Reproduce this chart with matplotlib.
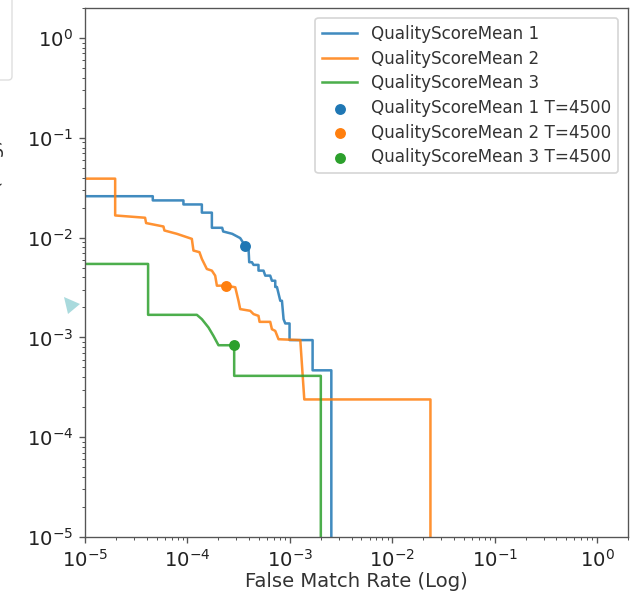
#!/usr/bin/env python3
# -*- coding: utf-8 -*-

"""
DET curves (log-log) for three quality score groups
"""

import matplotlib
matplotlib.use("Agg")
import matplotlib.pyplot as plt
from matplotlib.patches import FancyBboxPatch, Polygon

# curve 1: QualityScoreMean 1
fmr_1 = [1e-5, 4.59e-5, 4.59e-5, 9.14e-5, 9.14e-5, 1.383e-4, 1.383e-4, 1.732e-4,
         1.732e-4, 2.184e-4, 2.234e-4, 2.735e-4, 3.275e-4, 3.66e-4, 3.95e-4,
         4.01e-4, 4.26e-4, 4.42e-4, 4.94e-4, 4.94e-4, 5.53e-4, 5.75e-4, 6.43e-4,
         6.68e-4, 7.20e-4, 7.20e-4, 7.48e-4, 8.06e-4, 8.37e-4, 8.68e-4, 9.02e-4,
         9.93e-4, 9.93e-4, 1.667e-3, 1.667e-3, 2.54e-3, 2.54e-3]
fnmr_1 = [2.60e-2, 2.60e-2, 2.36e-2, 2.36e-2, 2.15e-2, 2.15e-2, 1.78e-2, 1.78e-2,
          1.255e-2, 1.255e-2, 1.152e-2, 1.092e-2, 9.89e-3, 8.27e-3, 7.72e-3,
          5.67e-3, 5.67e-3, 5.33e-3, 5.33e-3, 4.67e-3, 4.67e-3, 4.16e-3, 4.16e-3,
          3.70e-3, 3.70e-3, 3.20e-3, 3.20e-3, 2.33e-3, 2.33e-3, 1.524e-3, 1.38e-3,
          1.38e-3, 9.4e-4, 9.4e-4, 4.68e-4, 4.68e-4, 1e-6]

# curve 2: QualityScoreMean 2
fmr_2 = [1e-5, 1.97e-5, 1.97e-5, 3.86e-5, 3.95e-5, 5.83e-5, 5.96e-5, 7.88e-5,
         1.104e-4, 1.145e-4, 1.31e-4, 1.383e-4, 1.547e-4, 1.732e-4, 1.866e-4,
         1.939e-4, 2.39e-4, 2.93e-4, 3.15e-4, 3.275e-4, 4.10e-4, 4.42e-4,
         4.94e-4, 5.06e-4, 6.43e-4, 6.68e-4, 7.20e-4, 7.75e-4, 1.264e-3,
         1.383e-3, 2.357e-2, 2.357e-2]
fnmr_2 = [3.90e-2, 3.90e-2, 1.668e-2, 1.582e-2, 1.399e-2, 1.293e-2, 1.179e-2,
          1.092e-2, 9.72e-3, 7.42e-3, 7.15e-3, 6.12e-3, 4.85e-3, 4.67e-3,
          4.16e-3, 3.30e-3, 3.30e-3, 3.18e-3, 2.33e-3, 1.922e-3, 1.848e-3,
          1.712e-3, 1.645e-3, 1.432e-3, 1.432e-3, 1.209e-3, 1.162e-3, 9.59e-4,
          9.4e-4, 2.39e-4, 2.39e-4, 1e-6]

# curve 3: QualityScoreMean 3
fmr_3 = [1e-5, 4.13e-5, 4.13e-5, 1.236e-4, 1.383e-4, 1.605e-4, 1.796e-4, 2.01e-4,
         2.86e-4, 2.86e-4, 2.005e-3, 2.005e-3]
fnmr_3 = [5.45e-3, 5.45e-3, 1.684e-3, 1.684e-3, 1.524e-3, 1.258e-3, 1.035e-3,
          8.35e-4, 8.35e-4, 4.12e-4, 4.12e-4, 1e-6]

# operating points at threshold T=4500
op_fmr = [3.66e-4, 2.39e-4, 2.86e-4]
op_fnmr = [8.27e-3, 3.30e-3, 8.3e-4]

labels = ["QualityScoreMean 1", "QualityScoreMean 2", "QualityScoreMean 3"]
colors = ["C0", "C1", "C2"]

DPI = 121
fig = plt.figure(figsize=(631 / DPI, 594 / DPI), dpi=DPI)
ax = fig.add_axes([85 / 631, 57 / 594, 543 / 631, 529 / 594])

for fmr, fnmr, lab, col in zip([fmr_1, fmr_2, fmr_3], [fnmr_1, fnmr_2, fnmr_3], labels, colors):
    ax.plot(fmr, fnmr, color=col, label=lab, alpha=0.85)

for i in range(3):
    ax.scatter(op_fmr[i], op_fnmr[i], color=colors[i], s=30,
               label=labels[i] + " T=4500", zorder=3)

ax.set_xscale("log")
ax.set_yscale("log")
ax.set_xlim(1e-5, 2)
ax.set_ylim(1e-5, 2)
ax.set_xlabel("False Match Rate (Log)", color="#333333", fontsize=11.7, labelpad=1)
ax.set_ylabel("False Non-Match Rate (Log)", color="#333333", fontsize=11.7)
# label sits mostly outside the cropped figure
ax.yaxis.set_label_coords((4 - 85) / 543, 0.5)
ax.legend(loc="upper right", labelcolor="#333333", labelspacing=0.4,
          handlelength=2.1, borderaxespad=0.6)
ax.tick_params(which="both", color="#555555", labelcolor="#222222")
ax.tick_params(which="major", labelsize=11.7)
for sp in ax.spines.values():
    sp.set_color("#555555")

# leftovers of the notebook UI around the chart
fig.patches.append(FancyBboxPatch((-0.05, 514 / 594), 12 / 631 + 0.05, 0.2,
                                  boxstyle="round,pad=0,rounding_size=0.006",
                                  transform=fig.transFigure, fill=False,
                                  edgecolor="#dddddd", linewidth=0.8))
fig.patches.append(Polygon([(64 / 631, 1 - 297 / 594), (80 / 631, 1 - 304 / 594),
                            (68 / 631, 1 - 314 / 594)], closed=True,
                           transform=fig.transFigure, facecolor="#a9dadd",
                           edgecolor="none"))

fig.savefig("out.png", dpi=DPI)
